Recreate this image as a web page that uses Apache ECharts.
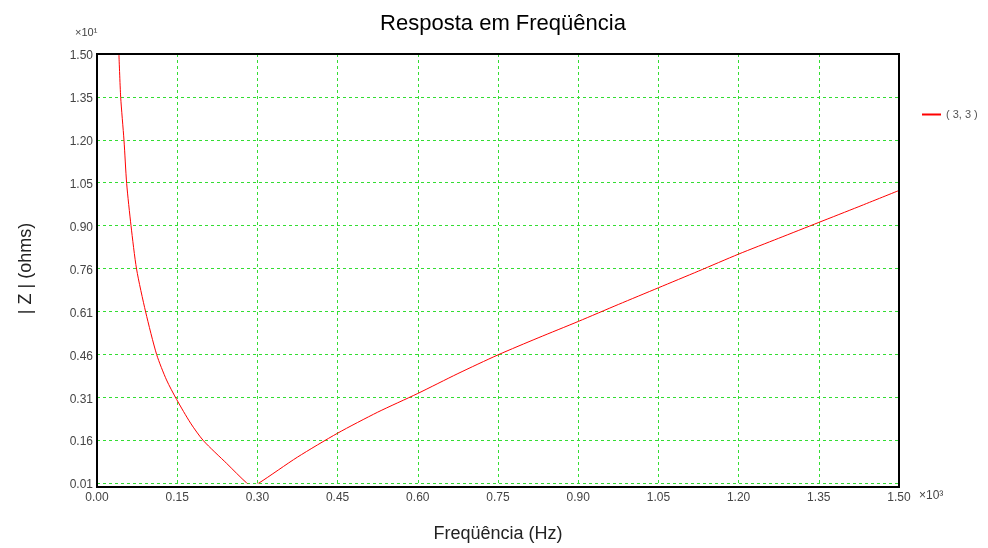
<!DOCTYPE html>
<html>
<head>
<meta charset="utf-8">
<script src="https://cdn.jsdelivr.net/npm/echarts@6/dist/echarts.min.js"></script>
<style>html,body{margin:0;padding:0;background:#fff;}#c{width:988px;height:548px;}</style>
</head>
<body>
<div id="c"></div>
<script>
// Frequency in x10^3 Hz, |Z| in x10^1 ohms
const freq = [0.041, 0.0443, 0.0505, 0.0555, 0.0636, 0.074, 0.091, 0.1116, 0.13, 0.149, 0.175, 0.199, 0.2425, 0.28, 0.29, 0.303, 0.375, 0.45, 0.525, 0.60, 0.675, 0.75, 0.825, 0.90, 0.975, 1.05, 1.125, 1.20, 1.275, 1.35, 1.425, 1.50];
const impedance = [1.50, 1.35, 1.20, 1.05, 0.904, 0.753, 0.604, 0.456, 0.368, 0.300, 0.218, 0.157, 0.078, 0.01, 0.0, 0.01, 0.10, 0.183, 0.256, 0.321, 0.39, 0.455, 0.514, 0.571, 0.63, 0.688, 0.746, 0.805, 0.86, 0.915, 0.97, 1.026];
const yTickLabels = ['0.01','0.16','0.31','0.46','0.61','0.76','0.90','1.05','1.20','1.35','1.50'];
const seriesName = '( 3, 3 )';

const G = {left: 97, top: 54, width: 802, height: 433};
const FONT = '"Liberation Sans", Arial, sans-serif';
const gridLine = {show: true, lineStyle: {color: '#33dd33', type: [3, 3], width: 1}};

const chart = echarts.init(document.getElementById('c'));
chart.setOption({
  backgroundColor: '#fff',
  animation: false,
  textStyle: {fontFamily: FONT},
  title: {
    text: 'Resposta em Freqüência', left: 498, top: 8, textAlign: 'center',
    textStyle: {fontFamily: FONT, fontSize: 22, fontWeight: 'normal', color: '#000'}
  },
  legend: {
    left: 917, top: 104, icon: 'rect', itemWidth: 19, itemHeight: 2, itemGap: 6,
    textStyle: {fontFamily: FONT, fontSize: 11, color: '#555'},
    data: [seriesName]
  },
  grid: {left: G.left, top: G.top, width: G.width, height: G.height, show: false},
  xAxis: {
    type: 'value', min: 0, max: 1.5, interval: 0.15,
    name: 'Freqüência (Hz)', nameLocation: 'middle', nameGap: 42,
    nameTextStyle: {fontFamily: FONT, fontSize: 18, color: '#222'},
    axisLine: {show: false}, axisTick: {show: false},
    axisLabel: {color: '#444', fontSize: 12, fontFamily: FONT, margin: 9, formatter: v => v.toFixed(2)},
    splitLine: gridLine
  },
  yAxis: [
    {type: 'value', min: 0.01, max: 1.5, axisLine: {show: false}, axisTick: {show: false},
     axisLabel: {show: false}, splitLine: {show: false}},
    {type: 'category', data: yTickLabels, boundaryGap: false, position: 'left',
     name: '| Z | (ohms)', nameLocation: 'middle', nameGap: 62, nameRotate: 90,
     nameTextStyle: {fontFamily: FONT, fontSize: 18, color: '#222'},
     axisLine: {show: false}, axisTick: {show: false},
     axisLabel: {interval: 0, color: '#444', fontSize: 12, fontFamily: FONT, margin: 4,
                 verticalAlign: 'top', lineHeight: 4},
     splitLine: Object.assign({interval: 0}, gridLine)}
  ],
  graphic: [
    {type: 'rect', z: 100, shape: {x: G.left, y: G.top, width: G.width, height: G.height},
     style: {fill: 'none', stroke: '#000', lineWidth: 2}},
    {type: 'text', left: 75, top: 27, z: 100,
     style: {text: '×10¹', fontFamily: FONT, fontSize: 11, fill: '#444'}},
    {type: 'text', left: 919, top: 490, z: 100,
     style: {text: '×10³', fontFamily: FONT, fontSize: 12, fill: '#444'}}
  ],
  series: [{
    name: seriesName, type: 'line', yAxisIndex: 0, showSymbol: false, symbol: 'none',
    smooth: 0.25, clip: true,
    lineStyle: {color: '#ff0000', width: 1},
    itemStyle: {color: '#ff0000'},
    data: freq.map((f, i) => [f, impedance[i]])
  }]
});
</script>
</body>
</html>
